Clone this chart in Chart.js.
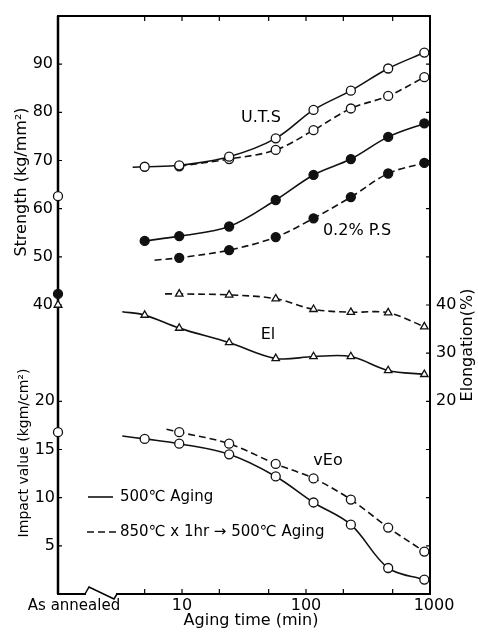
<!DOCTYPE html>
<html>
<head>
<meta charset="utf-8">
<script src="https://cdn.jsdelivr.net/npm/chart.js@4.4.1/dist/chart.umd.min.js"></script>
<style>
  html, body { margin: 0; padding: 0; background: #fff; }
  canvas { display: block; }
</style>
</head>
<body>
<canvas id="chart" width="478" height="633"></canvas>
<script>
// aging time (min) of the plotted points
const agingTimes = [5, 9.5, 24, 57, 115, 230, 460, 900];

// strength (kg/mm2)
const utsAging = [68.7, 69.0, 70.8, 74.6, 80.5, 84.5, 89.1, 92.4];
const utsQuenched = [null, 68.8, 70.3, 72.2, 76.3, 80.8, 83.4, 87.3];
const psAging = [53.3, 54.3, 56.3, 61.8, 67.0, 70.3, 74.9, 77.7];
const psQuenched = [null, 49.8, 51.4, 54.1, 58.0, 62.4, 67.3, 69.5];

// elongation (%)
const elAging = [37.9, 35.2, 32.2, 28.9, 29.3, 29.3, 26.4, 25.6];
const elQuenched = [null, 42.3, 42.1, 41.3, 39.1, 38.5, 38.4, 35.5];

// impact value (kgm/cm2)
const impactAging = [16.1, 15.6, 14.5, 12.2, 9.5, 7.2, 2.7, 1.5];
const impactQuenched = [null, 16.8, 15.6, 13.5, 12.0, 9.8, 6.9, 4.4];

// as annealed values: UTS, 0.2% PS, El, impact
const annealedValues = [62.6, 42.3, 40.0, 16.8];

// where the drawn curves start, left of the first point [time, value]
const utsAgingLead = [4.0, 68.6];
const psQuenchedLead = [6.0, 49.3];
const elAgingLead = [3.3, 38.6];
const elQuenchedLead = [7.3, 42.3];
const impactAgingLead = [3.3, 16.4];
const impactQuenchedLead = [7.5, 17.1];

// tick labels
const xTicks = [5, 10, 20, 50, 100, 200, 500];
const xLabels = [10, 100, 1000];
const strengthTicks = [40, 50, 60, 70, 80, 90];
const impactTicks = [5, 10, 15, 20];
const elongationTicks = [20, 30, 40];

const FONT = '"DejaVu Sans", sans-serif';

function series(values, axis, lead, dashed, pointStyle, filled) {
    const data = [];
    const radius = [];
    if (lead) {
        data.push({ x: lead[0], y: lead[1] });
        radius.push(0);
    }
    agingTimes.forEach((t, i) => {
        if (values[i] === null) return;
        data.push({ x: t, y: values[i] });
        radius.push(pointStyle === 'triangle' ? 4.3 : 4.5);
    });
    return {
        data: data,
        yAxisID: axis,
        borderColor: '#111',
        borderWidth: 1.6,
        borderDash: dashed ? [7, 4] : [],
        backgroundColor: filled ? '#111' : '#fff',
        pointBorderColor: '#111',
        pointBorderWidth: 1.3,
        pointBackgroundColor: filled ? '#111' : '#fff',
        pointStyle: pointStyle,
        pointRadius: radius,
        tension: 0.35,
        spanGaps: true,
        clip: false,
    };
}

function annealedPoint(value, axis, pointStyle, filled) {
    return {
        data: [{ x: 1, y: value }],
        yAxisID: axis,
        showLine: false,
        pointStyle: pointStyle,
        pointRadius: 4.5,
        pointBorderWidth: 1.3,
        pointBorderColor: '#111',
        pointBackgroundColor: filled ? '#111' : '#fff',
        clip: false,
    };
}

const datasets = [
    series(utsAging, 'y', utsAgingLead, false, 'circle', false),
    series(utsQuenched, 'y', null, true, 'circle', false),
    series(psAging, 'y', null, false, 'circle', true),
    series(psQuenched, 'y', psQuenchedLead, true, 'circle', true),
    series(elAging, 'yEl', elAgingLead, false, 'triangle', false),
    series(elQuenched, 'yEl', elQuenchedLead, true, 'triangle', false),
    series(impactAging, 'yImp', impactAgingLead, false, 'circle', false),
    series(impactQuenched, 'yImp', impactQuenchedLead, true, 'circle', false),
    annealedPoint(annealedValues[0], 'y', 'circle', false),
    annealedPoint(annealedValues[1], 'y', 'circle', true),
    annealedPoint(annealedValues[2], 'yEl', 'triangle', false),
    annealedPoint(annealedValues[3], 'yImp', 'circle', false),
];

/**
 * Draws the frame, inward ticks and all axis text the way the paper figure does.
 */
const paperAxes = {
    id: 'paperAxes',
    beforeDatasetsDraw(chart) {
        const { ctx, chartArea: a, scales } = chart;
        const x = scales.x;
        ctx.save();
        ctx.strokeStyle = '#000';
        ctx.lineCap = 'square';

        // frame with the axis break after "As annealed"
        ctx.lineWidth = 2;
        ctx.beginPath();
        ctx.moveTo(a.left + 27, a.bottom);
        ctx.lineTo(a.left, a.bottom);
        ctx.lineTo(a.left, a.top);
        ctx.lineTo(a.right, a.top);
        ctx.lineTo(a.right, a.bottom);
        ctx.lineTo(a.left + 59, a.bottom);
        ctx.stroke();
        ctx.lineWidth = 1.5;
        ctx.lineCap = 'butt';
        ctx.beginPath();
        ctx.moveTo(a.left + 27, a.bottom);
        ctx.lineTo(a.left + 31, a.bottom - 7);
        ctx.lineTo(a.left + 56, a.bottom + 5);
        ctx.lineTo(a.left + 59, a.bottom);
        ctx.stroke();
        ctx.lineWidth = 2.5;
        ctx.beginPath();
        ctx.moveTo(a.left, a.bottom);
        ctx.lineTo(a.left, a.top);
        ctx.stroke();

        // inward ticks
        ctx.lineWidth = 1.2;
        ctx.beginPath();
        xTicks.forEach(v => {
            const px = x.getPixelForValue(v);
            ctx.moveTo(px, a.top);
            ctx.lineTo(px, a.top + 5);
            ctx.moveTo(px, a.bottom);
            ctx.lineTo(px, a.bottom - 5);
        });
        const leftTicks = strengthTicks.map(v => scales.y.getPixelForValue(v))
            .concat(impactTicks.map(v => scales.yImp.getPixelForValue(v)));
        leftTicks.forEach(py => {
            ctx.moveTo(a.left, py);
            ctx.lineTo(a.left + 4, py);
        });
        const rightTicks = leftTicks.concat(elongationTicks.map(v => scales.yEl.getPixelForValue(v)));
        rightTicks.forEach(py => {
            ctx.moveTo(a.right, py);
            ctx.lineTo(a.right - 4, py);
        });
        ctx.stroke();
        ctx.restore();
    },
    afterDraw(chart) {
        const { ctx, chartArea: a, scales } = chart;
        ctx.save();
        ctx.fillStyle = '#000';
        ctx.font = '16px ' + FONT;
        ctx.textBaseline = 'middle';

        // left tick labels
        ctx.textAlign = 'right';
        strengthTicks.forEach(v => ctx.fillText(String(v), a.left - 5, scales.y.getPixelForValue(v)));
        impactTicks.forEach(v => ctx.fillText(String(v), a.left - 3, scales.yImp.getPixelForValue(v)));

        // right tick labels
        ctx.textAlign = 'left';
        elongationTicks.forEach(v => ctx.fillText(String(v), a.right + 6, scales.yEl.getPixelForValue(v)));

        // bottom tick labels
        ctx.textAlign = 'center';
        xLabels.forEach(v => ctx.fillText(String(v), scales.x.getPixelForValue(v) + (v === 1000 ? 4 : 0), a.bottom + 12));
        ctx.font = '15px ' + FONT;
        ctx.fillText('As annealed', a.left + 16, a.bottom + 12);

        // axis titles
        ctx.font = '16px ' + FONT;
        ctx.fillText('Aging time (min)', 251, a.bottom + 27);
        ctx.save();
        ctx.translate(22, 182);
        ctx.rotate(-Math.PI / 2);
        ctx.fillText('Strength (kg/mm²)', 0, 0);
        ctx.restore();
        ctx.save();
        ctx.translate(24, 453);
        ctx.rotate(-Math.PI / 2);
        ctx.font = '14px ' + FONT;
        ctx.fillText('Impact value (kgm/cm²)', 0, 0);
        ctx.restore();
        ctx.save();
        ctx.translate(468, 345);
        ctx.rotate(-Math.PI / 2);
        ctx.fillText('Elongation(%)', 0, 0);
        ctx.restore();

        // curve labels
        ctx.font = '16px ' + FONT;
        ctx.fillText('U.T.S', 261, 118);
        ctx.fillText('0.2% P.S', 357, 231);
        ctx.fillText('El', 268, 335);
        ctx.fillText('vEo', 328, 461);

        // legend
        ctx.strokeStyle = '#111';
        ctx.lineWidth = 1.6;
        ctx.beginPath();
        ctx.moveTo(88, 497);
        ctx.lineTo(113, 497);
        ctx.stroke();
        ctx.setLineDash([7, 4]);
        ctx.beginPath();
        ctx.moveTo(87, 532);
        ctx.lineTo(117, 532);
        ctx.stroke();
        ctx.setLineDash([]);
        ctx.textAlign = 'left';
        ctx.font = '15px ' + FONT;
        ctx.fillText('500℃ Aging', 120, 497);
        ctx.fillText('850℃ x 1hr → 500℃ Aging', 120, 532);
        ctx.restore();
    }
};

new Chart(document.getElementById('chart'), {
    type: 'line',
    data: { datasets: datasets },
    options: {
        responsive: false,
        animation: false,
        devicePixelRatio: 1,
        layout: { padding: { left: 58, top: 16, right: 48, bottom: 39 } },
        plugins: {
            legend: { display: false },
            tooltip: { enabled: false },
        },
        scales: {
            x: { type: 'logarithmic', min: 1, max: 1000, display: false },
            y: { type: 'linear', min: -20, max: 100, display: false },
            yImp: { type: 'linear', min: 0, max: 60, display: false },
            yEl: { type: 'linear', position: 'right', min: -20, max: 100, display: false },
        },
    },
    plugins: [paperAxes],
});
</script>
</body>
</html>
